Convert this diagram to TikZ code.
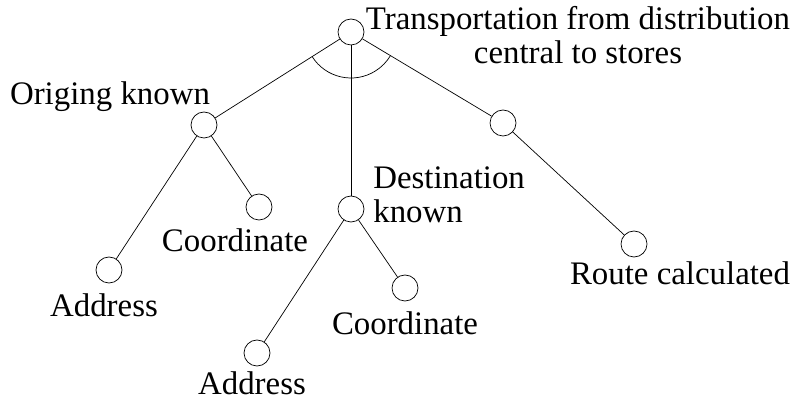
\documentclass[tikz,border=0pt]{standalone}
\usepackage{fontspec}
\setmainfont{Liberation Serif}
\usepackage{tikz}

\begin{document}
\begin{tikzpicture}[goal/.style={circle,draw,minimum size=0.52cm,inner sep=0pt},
        txt/.style={inner sep=0pt,font=\fontsize{18.7}{19.4}\selectfont}]
        \useasboundingbox (0,0) rectangle (15.8,8);
        \node[goal] (root) at (7.02,7.36) {};
        \node[goal] (orig) at (4.08,5.5) {};
        \node[goal] (dest) at (7.02,3.82) {};
        \node[goal] (route) at (10.06,5.54) {};
        \node[goal] (addrA) at (2.18,2.6) {};
        \node[goal] (coordA) at (5.18,3.86) {};
        \node[goal] (addrB) at (5.14,0.94) {};
        \node[goal] (coordB) at (8.1,2.24) {};
        \node[goal] (routecalc) at (12.68,3.12) {};
        \node[txt,align=center] (roottxt) at (11.56,7.3) {Transportation from distribution\\central to stores};
        \node[txt] (origtxt) at (2.2,6.06) {Origing known};
        \node[txt,align=left,anchor=west] (desttxt) at (7.46,4.1) {Destination\\known};
        \node[txt] (addrAtxt) at (2.08,1.9) {Address};
        \node[txt] (coordAtxt) at (4.7,3.2) {Coordinate};
        \node[txt] (addrBtxt) at (5.04,0.34) {Address};
        \node[txt] (coordBtxt) at (8.1,1.54) {Coordinate};
        \node[txt] (routecalctxt) at (13.6,2.54) {Route calculated};
        \draw (root) -- (orig);
        \draw (root) -- (dest);
        \draw (root) -- (route);
        \draw (orig) -- (addrA);
        \draw (orig) -- (coordA);
        \draw (dest) -- (addrB);
        \draw (dest) -- (coordB);
        \draw (route) -- (routecalc);
        % and-arc
        \draw ([shift={(212:0.92)}]root.center) arc[start angle=212,end angle=329,radius=0.92];
    \end{tikzpicture}
\end{document}
